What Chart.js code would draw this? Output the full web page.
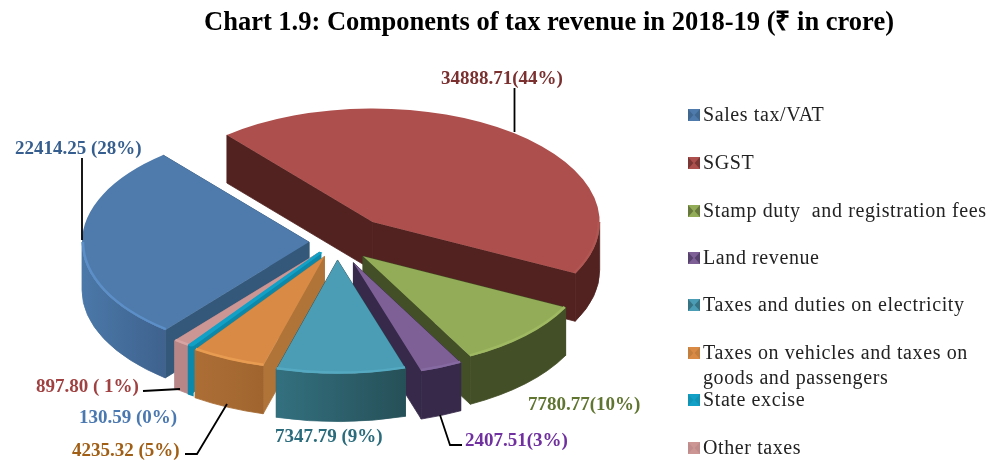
<!DOCTYPE html>
<html>
<head>
<meta charset="utf-8">
<title>Components of tax revenue</title>
<script src="https://cdn.jsdelivr.net/npm/chart.js@4"></script>
<style>
  html, body { margin: 0; padding: 0; background: #fff; }
  canvas { display: block; }
</style>
</head>
<body>
<canvas id="taxChart" width="995" height="460"></canvas>
<script>
const chartTitle = 'Chart 1.9: Components of tax revenue in 2018-19 (₹ in crore)';
const categories = ['Sales tax/VAT', 'SGST', 'Stamp duty  and registration fees', 'Land revenue',
  'Taxes and duties on electricity', 'Taxes on vehicles and taxes on goods and passengers', 'State excise', 'Other taxes'];
const amounts = [22414.25, 34888.71, 7780.77, 2407.51, 7347.79, 4235.32, 130.59, 897.80];
const valueLabels = ['22414.25 (28%)', '34888.71(44%)', '7780.77(10%)', '2407.51(3%)',
  '7347.79 (9%)', '4235.32 (5%)', '130.59 (0%)', '897.80 ( 1%)'];

// slice colours
const topColors = ['#4f7bac', '#ad4f4c', '#93ac58', '#7e6097', '#4b9db6', '#d98b46', '#12a0c6', '#cc9695'];
const cutColors = ['#34587a', '#512220', '#434f26', '#36294a', '#275059', '#b07439', '#0e88a8', '#b68484'];
const wallLeft = ['#4a78a8', '#512220', '#434f26', '#36294a', '#33707f', '#ac6e35', '#0e88a8', '#b88686'];
const wallRight = ['#3f628e', '#512220', '#434f26', '#36294a', '#265058', '#a0652f', '#0e88a8', '#b88686'];
const rimColors = ['#5c8fc8', '#b25653', '#9fb862', '#866aa2', '#55aac2', '#e89c52', '#12a0c6', '#d8a4a3'];
const labelColors = ['#365f8f', '#7b3030', '#5f7530', '#7030a0', '#2a6b7c', '#a15f16', '#4a78b0', '#a04040'];

// 3d layout
const pieX = 341, pieY = 242, pieR = 227, tilt = 0.5, depth = 48;
const explode = [32, 51, 35, 45, 36, 32, 30, 32];
const nudgeX = [0, 0, -3, -5, -4, -3, -3, -3];
const nudgeY = [0, 0, 2, 0, 0, 0, -2, -2];

// where the value labels, leaders and legend rows sit
const labelSpots = [[15, 154], [441, 84], [528, 410], [465, 446], [275, 442], [72, 456], [79, 423], [36, 392]];
const leaders = [
  [[82, 158], [82, 240]],
  [[514.5, 88], [514.5, 132]],
  null,
  [[440, 415], [450, 445], [462, 445]],
  null,
  [[227, 404], [197, 454], [185, 454]],
  null,
  [[143, 391], [180, 389]],
];
const legendRows = [115, 163, 211, 258, 305, 353, 400, 448];
const legendLines = [['Sales tax/VAT'], ['SGST'], ['Stamp duty  and registration fees'], ['Land revenue'],
  ['Taxes and duties on electricity'], ['Taxes on vehicles and taxes on', 'goods and passengers'], ['State excise'], ['Other taxes']];

function sliceOrigin(arc, i) {
  const mid = (arc.startAngle + arc.endAngle) / 2;
  return {
    x: pieX + Math.cos(mid) * explode[i] + nudgeX[i],
    y: pieY + Math.sin(mid) * explode[i] * tilt + nudgeY[i],
  };
}

function edgePoint(o, angle) {
  return { x: o.x + Math.cos(angle) * pieR, y: o.y + Math.sin(angle) * pieR * tilt };
}

function drawCut(ctx, o, angle, color) {
  const p = edgePoint(o, angle);
  ctx.beginPath();
  ctx.moveTo(o.x, o.y);
  ctx.lineTo(p.x, p.y);
  ctx.lineTo(p.x, p.y + depth);
  ctx.lineTo(o.x, o.y + depth);
  ctx.closePath();
  ctx.fillStyle = color;
  ctx.strokeStyle = color;
  ctx.lineWidth = 0.8; // hides the seam between neighbouring faces
  ctx.fill();
  ctx.stroke();
}

// the parts of a slice's rim that face the viewer
function frontRanges(a0, a1) {
  const out = [];
  for (const [s, e] of [[-Math.PI * 2, -Math.PI], [0, Math.PI], [Math.PI * 2, Math.PI * 3]]) {
    const from = Math.max(a0, s), to = Math.min(a1, e);
    if (to > from) out.push([from, to]);
  }
  return out;
}

function drawWall(ctx, o, from, to, i) {
  const a = edgePoint(o, from), b = edgePoint(o, to);
  const grad = ctx.createLinearGradient(Math.min(a.x, b.x), 0, Math.max(a.x, b.x), 0);
  grad.addColorStop(0, wallLeft[i]);
  grad.addColorStop(1, wallRight[i]);
  ctx.beginPath();
  ctx.ellipse(o.x, o.y, pieR, pieR * tilt, 0, from, to);
  ctx.ellipse(o.x, o.y + depth, pieR, pieR * tilt, 0, to, from, true);
  ctx.closePath();
  ctx.fillStyle = grad;
  ctx.strokeStyle = grad;
  ctx.lineWidth = i === 6 ? 4 : 0.8; // excise is a hair thin, keep it as wide as its top face
  ctx.fill();
  ctx.stroke();
}

function drawSwatch(ctx, x, y, color, dark) {
  const s = 12;
  ctx.fillStyle = color;
  ctx.fillRect(x, y, s, s);
  ctx.save();
  ctx.globalAlpha = 0.55;
  ctx.fillStyle = dark;
  ctx.beginPath();
  ctx.moveTo(x, y);
  ctx.lineTo(x + s * 0.45, y + s / 2);
  ctx.lineTo(x, y + s);
  ctx.moveTo(x + s, y);
  ctx.lineTo(x + s * 0.55, y + s / 2);
  ctx.lineTo(x + s, y + s);
  ctx.fill();
  ctx.restore();
}

const pie3d = {
  id: 'pie3d',
  beforeDatasetDraw(chart, args) {
    const ctx = chart.ctx;
    const arcs = args.meta.data;
    const order = [1, 0, 2, 3, 7, 6, 5, 4];

    order.forEach(i => {
      const arc = arcs[i];
      const o = sliceOrigin(arc, i);
      drawCut(ctx, o, arc.startAngle, cutColors[i]);
      drawCut(ctx, o, arc.endAngle, cutColors[i]);
      frontRanges(arc.startAngle, arc.endAngle).forEach(r => drawWall(ctx, o, r[0], r[1], i));
    });

    // top faces come from the library's own arc elements, squashed and pushed out
    order.forEach(i => {
      const arc = arcs[i];
      const o = sliceOrigin(arc, i);
      const k = pieR / arc.outerRadius;
      ctx.save();
      ctx.translate(o.x, o.y);
      ctx.scale(k, k * tilt);
      ctx.translate(-arc.x, -arc.y);
      arc.draw(ctx);
      ctx.restore();

      ctx.strokeStyle = rimColors[i];
      ctx.lineWidth = 2.5;
      frontRanges(arc.startAngle, arc.endAngle).forEach(r => {
        ctx.beginPath();
        ctx.ellipse(o.x, o.y, pieR - 1, pieR * tilt - 1, 0, r[0], r[1]);
        ctx.stroke();
      });
    });
    return false;
  },
  afterDraw(chart) {
    const ctx = chart.ctx;
    ctx.save();

    ctx.fillStyle = '#000';
    ctx.font = 'bold 26.5px "Liberation Serif"';
    ctx.textAlign = 'center';
    ctx.textBaseline = 'alphabetic';
    ctx.fillText(chartTitle, 549, 30);
    ctx.textAlign = 'left';

    ctx.strokeStyle = '#000';
    ctx.lineWidth = 1.8;
    leaders.forEach(line => {
      if (!line) return;
      ctx.beginPath();
      line.forEach((p, n) => (n ? ctx.lineTo(p[0], p[1]) : ctx.moveTo(p[0], p[1])));
      ctx.stroke();
    });

    ctx.font = 'bold 19px "Liberation Serif"';
    valueLabels.forEach((text, i) => {
      ctx.fillStyle = labelColors[i];
      ctx.fillText(text, labelSpots[i][0], labelSpots[i][1]);
    });

    ctx.font = '20px "Liberation Serif"';
    ctx.letterSpacing = '0.6px';
    legendRows.forEach((y, i) => {
      drawSwatch(ctx, 688, y - 6, topColors[i], cutColors[i]);
      ctx.fillStyle = '#222';
      legendLines[i].forEach((line, n) => ctx.fillText(line, 703, y + 6 + n * 25));
    });
    ctx.restore();
  },
};

new Chart(document.getElementById('taxChart'), {
  type: 'pie',
  data: {
    labels: categories,
    datasets: [{
      data: amounts,
      backgroundColor: topColors,
      borderColor: topColors,
      borderWidth: [0, 0, 0, 0, 0, 0, 4, 0],
      clip: false,
    }],
  },
  options: {
    responsive: false,
    animation: false,
    events: [],
    rotation: 219.3,
    plugins: { legend: { display: false }, title: { display: false }, tooltip: { enabled: false } },
  },
  plugins: [pie3d],
});
</script>
</body>
</html>
